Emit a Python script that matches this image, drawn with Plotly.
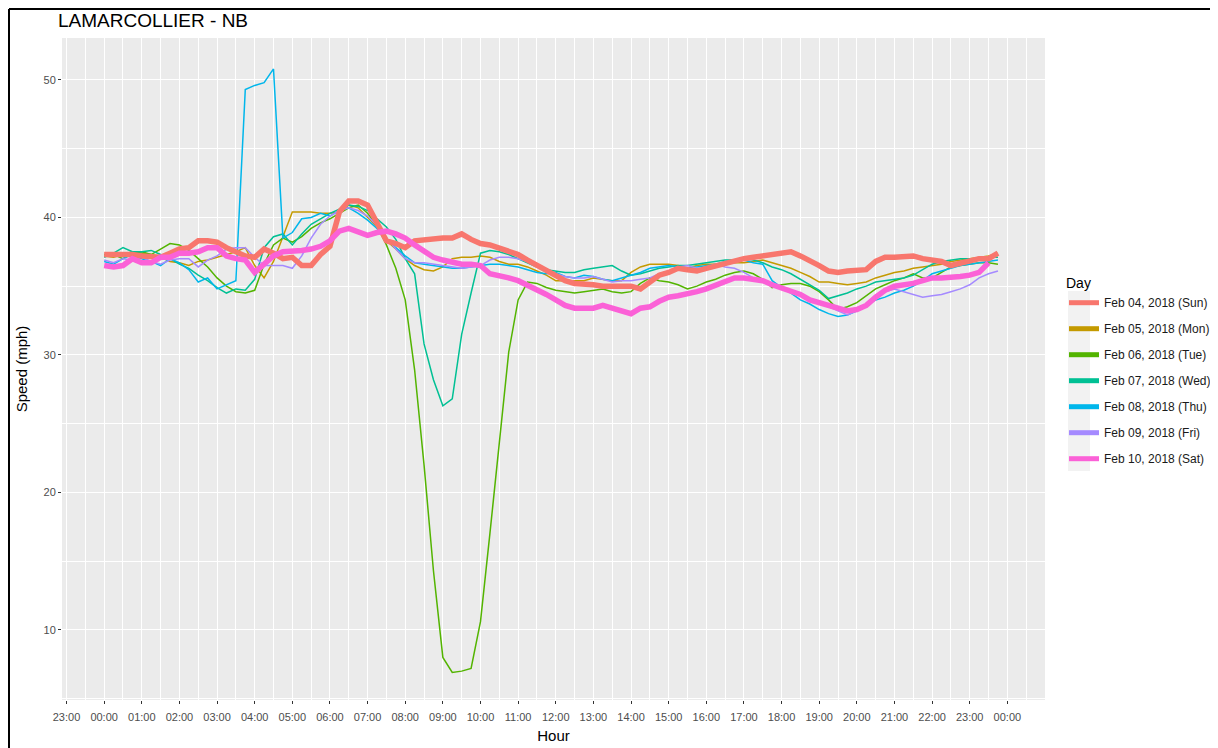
import plotly.graph_objects as go

# 15-minute readings, 00:00 .. 23:45 (Sat ends 23:30)
t = [k / 4 for k in range(96)]

tick_hours = list(range(-1, 25))
tick_labels = ["23:00", "00:00", "01:00", "02:00", "03:00", "04:00", "05:00", "06:00",
               "07:00", "08:00", "09:00", "10:00", "11:00", "12:00", "13:00", "14:00",
               "15:00", "16:00", "17:00", "18:00", "19:00", "20:00", "21:00", "22:00",
               "23:00", "00:00"]
y_ticks = [10, 20, 30, 40, 50]

days = ["Feb 04, 2018 (Sun)", "Feb 05, 2018 (Mon)", "Feb 06, 2018 (Tue)",
        "Feb 07, 2018 (Wed)", "Feb 08, 2018 (Thu)", "Feb 09, 2018 (Fri)",
        "Feb 10, 2018 (Sat)"]
colors = ["#F8766D", "#C49A00", "#53B400", "#00C094", "#00B6EB", "#A58AFF", "#FB61D7"]

sun = [37.3, 37.3, 37.4, 37.3, 37.2, 37.1, 37.1, 37.4, 37.7, 37.8, 38.3, 38.3,
       38.2, 37.8, 37.5, 37.2, 37.1, 37.7, 37.4, 37.0, 37.1, 36.5, 36.5, 37.3,
       37.9, 40.4, 41.2, 41.2, 40.9, 39.5, 38.3, 38.1, 37.8, 38.3, 38.4, 38.4,
       38.5, 38.5, 38.8, 38.4, 38.1, 38.0, 37.8, 37.6, 37.3, 36.9, 36.5, 36.1,
       35.7, 35.4, 35.2, 35.1, 35.1, 35.0, 35.0, 35.0, 35.0, 34.8, 35.3, 35.8,
       36.0, 36.3, 36.2, 36.1, 36.3, 36.5, 36.7, 36.8, 37.0, 37.1, 37.2, 37.3,
       37.4, 37.5, 37.2, 36.9, 36.5, 36.1, 36.0, 36.1, 36.1, 36.2, 36.8, 37.1,
       37.1, 37.2, 37.2, 37.0, 36.9, 36.8, 36.5, 36.7, 36.9, 37.0, 37.0, 37.4]

mon = [37.2, 37.1, 37.3, 37.5, 37.4, 37.3, 37.1, 36.8, 36.7, 36.5, 36.8, 36.9,
       37.1, 37.3, 37.5, 37.8, 36.5, 35.6, 36.8, 38.6, 40.4, 40.4, 40.4, 40.3,
       40.3, 40.4, 40.9, 40.7, 40.0, 39.3, 38.3, 37.7, 37.0, 36.5, 36.2, 36.1,
       36.4, 37.0, 37.1, 37.1, 37.2, 37.1, 36.8, 36.6, 36.6, 36.4, 36.1, 35.8,
       35.4, 35.4, 35.4, 35.4, 35.6, 35.5, 35.4, 35.4, 36.0, 36.4, 36.6, 36.6,
       36.6, 36.5, 36.3, 36.5, 36.6, 36.6, 36.6, 36.7, 36.7, 36.8, 36.9, 36.7,
       36.5, 36.3, 36.0, 35.7, 35.3, 35.3, 35.2, 35.1, 35.2, 35.3, 35.6, 35.8,
       36.0, 36.1, 36.3, 36.4, 36.5, 36.6, 36.8, 36.9, 37.0, 37.1, 37.2, 37.4]

tue = [37.3, 37.3, 37.0, 37.4, 37.5, 37.3, 37.7, 38.1, 38.0, 37.6, 37.0, 36.4,
       35.6, 35.0, 34.6, 34.5, 34.7, 36.6, 38.0, 38.5, 38.2, 38.6, 39.2, 39.6,
       39.9, 40.3, 40.7, 40.9, 40.3, 39.4, 38.0, 36.3, 34.0, 28.9, 22.0, 14.3,
       8.0, 6.9, 7.0, 7.2, 10.6, 17.0, 23.5, 30.2, 34.0, 35.3, 35.2, 34.9,
       34.7, 34.6, 34.5, 34.6, 34.7, 34.8, 34.6, 34.5, 34.6, 35.2, 35.6, 35.4,
       35.3, 35.1, 34.8, 35.0, 35.3, 35.5, 35.8, 36.0, 36.1, 35.9, 35.5, 34.9,
       35.1, 35.2, 35.2, 35.0, 34.6, 34.0, 33.3, 33.5, 33.8, 34.3, 34.8, 35.1,
       35.4, 35.6, 35.9, 35.6, 35.6, 36.0, 36.4, 36.5, 36.6, 36.7, 36.7, 36.6]

wed = [37.1, 37.4, 37.8, 37.5, 37.5, 37.6, 37.3, 37.0, 36.6, 36.3, 35.8, 35.4,
       34.9, 34.5, 34.8, 34.7, 35.5, 37.8, 38.6, 38.8, 38.0, 38.8, 39.5, 39.9,
       40.3, 40.6, 40.9, 40.8, 40.5, 39.9, 39.3, 38.4, 37.0, 35.9, 30.8, 28.2,
       26.3, 26.8, 31.5, 34.5, 37.4, 37.6, 37.5, 37.3, 37.0, 36.7, 36.4, 36.2,
       36.1, 36.0, 36.0, 36.2, 36.3, 36.4, 36.5, 36.1, 35.8, 35.9, 36.1, 36.3,
       36.4, 36.5, 36.5, 36.6, 36.7, 36.8, 36.9, 36.9, 37.0, 36.9, 36.7, 36.4,
       36.2, 35.9, 35.5, 35.1, 34.7, 34.1, 34.3, 34.5, 34.8, 35.0, 35.3, 35.4,
       35.5, 35.6, 35.8, 36.2, 36.6, 36.8, 36.9, 37.0, 37.0, 37.0, 37.1, 37.1]

thu = [36.8, 36.6, 37.0, 37.3, 37.0, 36.8, 36.5, 37.0, 36.7, 36.2, 35.3, 35.6,
       34.8, 35.1, 35.4, 49.3, 49.6, 49.8, 50.8, 38.5, 38.9, 39.9, 40.0, 40.3,
       40.1, 40.5, 40.7, 40.3, 39.8, 39.2, 38.5, 37.8, 37.2, 36.7, 36.6, 36.5,
       36.4, 36.3, 36.3, 36.4, 36.5, 36.6, 36.6, 36.5, 36.4, 36.2, 36.0, 35.9,
       36.0, 35.7, 35.6, 35.8, 35.7, 35.5, 35.4, 35.6, 35.8, 36.0, 36.3, 36.4,
       36.5, 36.4, 36.3, 36.4, 36.5, 36.6, 36.8, 36.9, 36.9, 36.7, 36.6, 35.4,
       34.9, 34.5, 34.0, 33.7, 33.3, 33.0, 32.8, 32.9, 33.2, 33.6, 34.0, 34.2,
       34.5, 34.7, 35.0, 35.4, 35.9, 36.1, 36.3, 36.5, 36.6, 36.7, 36.8, 36.9]

fri = [36.9, 36.7, 37.0, 36.9, 37.1, 36.8, 36.6, 36.9, 37.0, 37.0, 36.4, 36.9,
       37.2, 37.7, 37.8, 37.8, 37.1, 36.5, 36.5, 36.5, 36.3, 37.2, 38.5, 39.5,
       40.1, 40.5, 40.7, 40.5, 40.1, 39.4, 38.5, 37.7, 37.0, 36.7, 36.7, 36.6,
       36.5, 36.4, 36.3, 36.4, 36.5, 36.9, 37.1, 37.1, 37.0, 36.8, 36.5, 36.2,
       35.9, 35.7, 35.6, 35.6, 35.7, 35.5, 35.3, 35.4, 35.4, 35.5, 35.6, 35.9,
       36.1, 36.4, 36.5, 36.3, 36.3, 36.6, 36.4, 36.3, 36.0, 35.6, 35.3, 35.1,
       34.9, 34.7, 34.4, 34.0, 33.8, 33.5, 33.2, 32.9, 33.2, 33.6, 34.2, 34.6,
       34.8, 34.6, 34.4, 34.2, 34.3, 34.4, 34.6, 34.8, 35.1, 35.6, 35.9, 36.1]

sat = [36.5, 36.4, 36.5, 37.0, 36.7, 36.7, 37.1, 37.1, 37.4, 37.4, 37.5, 37.8,
       37.8, 37.2, 37.0, 36.9, 36.0, 36.6, 37.2, 37.5, 37.5, 37.6, 37.7, 37.9,
       38.3, 39.0, 39.2, 39.0, 38.7, 38.9, 39.0, 38.8, 38.5, 38.0, 37.5, 37.1,
       36.9, 36.7, 36.6, 36.6, 36.5, 35.9, 35.8, 35.6, 35.4, 35.1, 34.8, 34.4,
       34.0, 33.6, 33.4, 33.4, 33.4, 33.6, 33.4, 33.1, 33.0, 33.4, 33.5, 33.9,
       34.2, 34.3, 34.4, 34.6, 34.8, 35.1, 35.4, 35.6, 35.6, 35.5, 35.4, 35.1,
       34.9, 34.7, 34.4, 34.0, 33.8, 33.5, 33.3, 33.2, 33.3, 33.6, 34.2, 34.7,
       35.0, 35.1, 35.2, 35.4, 35.6, 35.6, 35.6, 35.7, 35.8, 36.0, 36.7]

series = [sun, mon, tue, wed, thu, fri, sat]

# page keeps an 8px body margin, so the figure is 8px smaller each way
W, H = 1210, 740
OFF = 8


# page px -> paper coords (plot area is 62..1045 x 38..700 on the page)
def px(x):
    return (x - 62) / 983


def py(y):
    return (700 - y) / 662


fig = go.Figure()

# weekdays thin, weekend thick on top
order = [1, 2, 3, 4, 5, 0, 6]
for i in order:
    vals = series[i]
    thick = i in (0, 6)
    fig.add_trace(go.Scatter(
        x=t[:len(vals)], y=vals,
        mode='lines',
        line=dict(color=colors[i], width=5.5 if thick else 1.5),
        name=days[i],
        showlegend=False,
        hovertemplate='%{y:.1f} mph<extra>' + days[i] + '</extra>'
    ))

# legend keys (all drawn as thick bars like ggplot keys)
for i in range(7):
    fig.add_trace(go.Scatter(
        x=[None], y=[None],
        mode='lines',
        line=dict(color=colors[i], width=5),
        name=days[i],
        legendgroup=days[i]
    ))

fig.update_layout(
    width=W, height=H,
    paper_bgcolor='white',
    plot_bgcolor='#EBEBEB',
    margin=dict(l=62 - OFF, r=173, t=38 - OFF, b=48, autoexpand=False),
    font=dict(family='Liberation Sans, Arial, sans-serif', color='#1A1A1A'),
    title=dict(text='LAMARCOLLIER - NB', xref='container', yref='container',
               x=(58 - OFF) / W, y=1 - (20 - OFF) / H, xanchor='left', yanchor='middle',
               font=dict(size=19, color='black')),
    xaxis=dict(
        range=[-1.12, 25.0], automargin=False,
        tickmode='array', tickvals=tick_hours, ticktext=tick_labels,
        showgrid=True, gridcolor='white', gridwidth=1.1,
        zeroline=False, showline=False,
        ticks='outside', ticklen=3, tickcolor='#333333', tickwidth=1,
        ticklabelstandoff=4,
        tickfont=dict(size=11, color='#4D4D4D'),
        minor=dict(tick0=0.5, dtick=1, showgrid=True, gridcolor='white', gridwidth=0.5),
        title=dict(text='Hour', font=dict(size=15, color='black'), standoff=8)
    ),
    yaxis=dict(
        range=[4.9, 53.05], automargin=False,
        tickmode='array', tickvals=y_ticks,
        showgrid=True, gridcolor='white', gridwidth=1.1,
        zeroline=False, showline=False,
        ticks='outside', ticklen=3, tickcolor='#333333', tickwidth=1,
        tickfont=dict(size=11, color='#4D4D4D'),
        minor=dict(tick0=5, dtick=10, showgrid=True, gridcolor='white', gridwidth=0.5),
        title=dict(text='Speed (mph)', font=dict(size=15, color='black'), standoff=12)
    ),
    legend=dict(
        title=dict(text='Day', font=dict(size=14, color='black')),
        font=dict(size=12, color='#1A1A1A'),
        x=px(1064), y=py(270), xanchor='left', yanchor='top',
        tracegroupgap=7,
        bgcolor='rgba(0,0,0,0)'
    ),
    shapes=[
        # legend key background column
        dict(type='rect', xref='paper', yref='paper', layer='below',
             x0=px(1068), x1=px(1090), y0=py(471), y1=py(291),
             fillcolor='#F2F2F2', line=dict(width=0)),
        # image frame on left and top
        dict(type='line', xref='paper', yref='paper',
             x0=px(9), x1=px(9), y0=py(748), y1=py(9),
             line=dict(color='black', width=2)),
        dict(type='line', xref='paper', yref='paper',
             x0=px(9), x1=px(1218), y0=py(9), y1=py(9),
             line=dict(color='black', width=2)),
    ],
    hovermode='closest'
)

fig.write_html("out.html")
